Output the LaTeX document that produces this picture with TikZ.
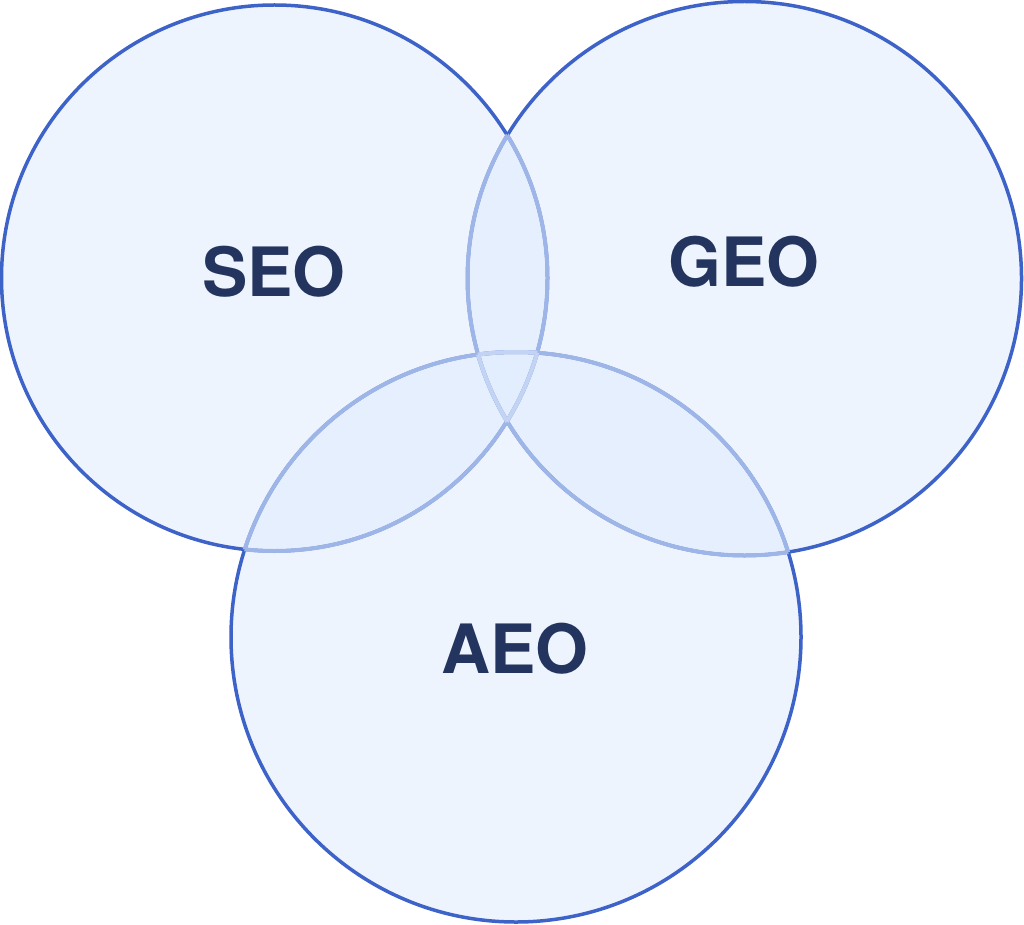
\documentclass[tikz,border=0pt]{standalone}
\usepackage{fontspec}
\setmainfont{TeX Gyre Heros}
\definecolor{ringblue}{RGB}{61, 99, 201}
\definecolor{ringblue2}{RGB}{158, 181, 232}
\definecolor{ringblue3}{RGB}{195, 211, 244}
\definecolor{discblue}{RGB}{222, 234, 253}
\definecolor{labelnavy}{RGB}{35, 52, 94}
\tikzset{
    ring/.style={draw=ringblue, line width=3.5pt},
    ringfaint/.style={draw=ringblue2, line width=4pt},
    ringfainter/.style={draw=ringblue3, line width=4pt},
    disc/.style={fill=discblue, fill opacity=0.5},
    venntext/.style={text=labelnavy, font=\bfseries\fontsize{68}{68}\selectfont, inner sep=0pt}
}

\begin{document}
\begin{tikzpicture}[x=1pt, y=-1pt]
    \useasboundingbox (0,0) rectangle (1024,925);
    \coordinate (seo) at (274.5,278);
    \coordinate (geo) at (744.5,278.5);
    \coordinate (aeo) at (516,637);
    % discs
    \foreach \c/\r in {seo/273, geo/277, aeo/285}
        \fill[disc] (\c) circle[radius=\r];
    % outlines
    \foreach \c/\r in {seo/273, geo/277, aeo/285}
        \draw[ring] (\c) circle[radius=\r];
    % arcs inside one other circle
    \foreach \a/\ra/\b/\rb in {seo/273/geo/277, seo/273/aeo/285, geo/277/seo/273,
                               geo/277/aeo/285, aeo/285/seo/273, aeo/285/geo/277}
    {
        \begin{scope}
            \clip (\b) circle[radius=\rb];
            \draw[ringfaint] (\a) circle[radius=\ra];
        \end{scope}
    }
    % arcs inside both other circles
    \foreach \a/\ra/\b/\rb/\d/\rd in {seo/273/geo/277/aeo/285, geo/277/seo/273/aeo/285,
                                      aeo/285/seo/273/geo/277}
    {
        \begin{scope}
            \clip (\b) circle[radius=\rb];
            \clip (\d) circle[radius=\rd];
            \draw[ringfainter] (\a) circle[radius=\ra];
        \end{scope}
    }
    \node[venntext] (seolabel) at (274,272) {SEO};
    \node[venntext] (geolabel) at (744,262) {GEO};
    \node[venntext] (aeolabel) at (515,649) {AEO};
\end{tikzpicture}
\end{document}
